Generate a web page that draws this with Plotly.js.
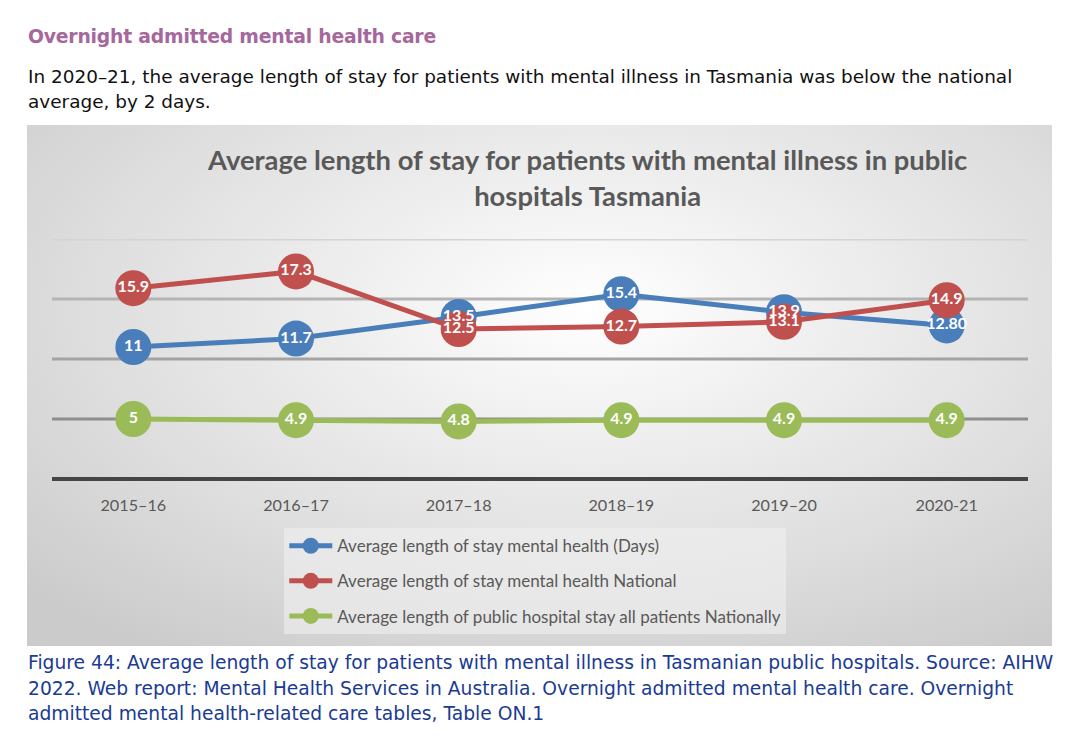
<!DOCTYPE html>
<html>
<head>
<meta charset="utf-8">
<script src="https://cdn.plot.ly/plotly-3.0.1.min.js"></script>
<style>
  html, body { margin: 0; padding: 0; background: #ffffff; width: 1075px; height: 741px; overflow: hidden; }
  .txt { position: absolute; left: 28px; font-family: "DejaVu Sans", Verdana, sans-serif; white-space: nowrap; }
  #heading { top: 26px; font-size: 18.8px; font-weight: bold; color: #a5679c; letter-spacing: -0.2px; }
  #para { top: 64px; font-size: 18.45px; line-height: 25px; color: #111111; }
  #caption { top: 650px; font-size: 18.7px; line-height: 25.5px; color: #1a3b93; }
  #panel { position: absolute; left: 27px; top: 125px; width: 1025px; height: 521px;
    background: radial-gradient(ellipse 75% 80% at 55% 35%, #ffffff 0%, #f2f2f2 25%, #dedede 65%, #cbcbcb 100%); }
  #chart { position: absolute; left: 0; top: 0; width: 1025px; height: 521px; }
</style>
</head>
<body>
<div id="heading" class="txt">Overnight admitted mental health care</div>
<div id="para" class="txt">In 2020–21, the average length of stay for patients with mental illness in Tasmania was below the national<br>average, by 2 days.</div>
<div id="panel"><div id="chart"></div></div>
<div id="caption" class="txt">Figure 44: Average length of stay for patients with mental illness in Tasmanian public hospitals. Source: AIHW<br>2022. Web report: Mental Health Services in Australia. Overnight admitted mental health care. Overnight<br>admitted mental health-related care tables, Table ON.1</div>
<script>
// ---- data ----
const years = ['2015–16', '2016–17', '2017–18', '2018–19', '2019–20', '2020-21'];
const tasMental = [11, 11.7, 13.5, 15.4, 13.9, 12.80];
const tasMentalLabels = ['11', '11.7', '13.5', '15.4', '13.9', '12.80'];
const natMental = [15.9, 17.3, 12.5, 12.7, 13.1, 14.9];
const natMentalLabels = ['15.9', '17.3', '12.5', '12.7', '13.1', '14.9'];
const natAll = [5, 4.9, 4.8, 4.9, 4.9, 4.9];
const natAllLabels = ['5', '4.9', '4.8', '4.9', '4.9', '4.9'];
const seriesNames = [
  'Average length of stay mental health (Days)',
  'Average length of stay mental health National',
  'Average length of public hospital stay all patients Nationally'
];
const gridLevels = [5, 10, 15, 20];
const colors = ['#4a7ebb', '#c0504d', '#9bbb59'];
const gridColors = ['#8e8e8e', '#a3a3a3', '#b4b4b4', '#d4d4d4'];

const FONT = 'Lato, "Open Sans", sans-serif';

function lineTrace(y, i) {
  return {
    x: years, y: y, name: seriesNames[i], type: 'scatter', mode: 'lines+markers',
    line: { color: colors[i], width: 5 },
    marker: { color: colors[i], size: 36 },
    legendgroup: 'g' + i, hoverinfo: 'skip'
  };
}
function textTrace(y, labels) {
  return {
    x: years, y: y, type: 'scatter', mode: 'text', text: labels,
    textposition: 'middle center', showlegend: false, hoverinfo: 'skip',
    textfont: { family: FONT, size: 16, color: '#ffffff', weight: 'bold' }
  };
}

const data = [
  lineTrace(tasMental, 0),
  lineTrace(natMental, 1),
  lineTrace(natAll, 2),
  textTrace(tasMental, tasMentalLabels),
  textTrace(natMental, natMentalLabels),
  textTrace(natAll, natAllLabels)
];

const shapes = gridLevels.map((v, i) => ({
  type: 'line', xref: 'paper', x0: 0, x1: 1, yref: 'y', y0: v, y1: v,
  line: { color: gridColors[i], width: 3 }, layer: 'below'
}));

const layout = {
  width: 1025, height: 521,
  paper_bgcolor: 'rgba(0,0,0,0)', plot_bgcolor: 'rgba(0,0,0,0)',
  margin: { l: 25, r: 24, t: 114, b: 161 },
  title: {
    text: 'Average length of stay for patients with mental illness in public<br>hospitals Tasmania',
    font: { family: FONT, size: 27.4, color: '#595959', weight: 'bold' },
    x: 0.547, xref: 'container', xanchor: 'center',
    y: 0.913, yref: 'container', yanchor: 'middle'
  },
  xaxis: {
    type: 'category', range: [-0.5, 5.5], showgrid: false, zeroline: false, showline: false,
    ticks: 'outside', ticklen: 12, tickcolor: 'rgba(0,0,0,0)',
    tickfont: { family: FONT, size: 16.2, color: '#595959' },
    fixedrange: true
  },
  yaxis: {
    range: [0, 20], dtick: 5, showticklabels: false, ticks: '',
    showgrid: false,
    zeroline: true, zerolinecolor: '#454545', zerolinewidth: 4,
    fixedrange: true
  },
  shapes: shapes,
  showlegend: true,
  legend: {
    orientation: 'v', x: 0.238, xanchor: 'left', y: -0.205, yanchor: 'top',
    bgcolor: 'rgba(240,240,240,0.6)', borderwidth: 0,
    font: { family: FONT, size: 17, color: '#595959' },
    traceorder: 'grouped', tracegroupgap: 10, itemwidth: 43
  }
};

Plotly.newPlot('chart', data, layout, { displayModeBar: false, staticPlot: true });
</script>
</body>
</html>
